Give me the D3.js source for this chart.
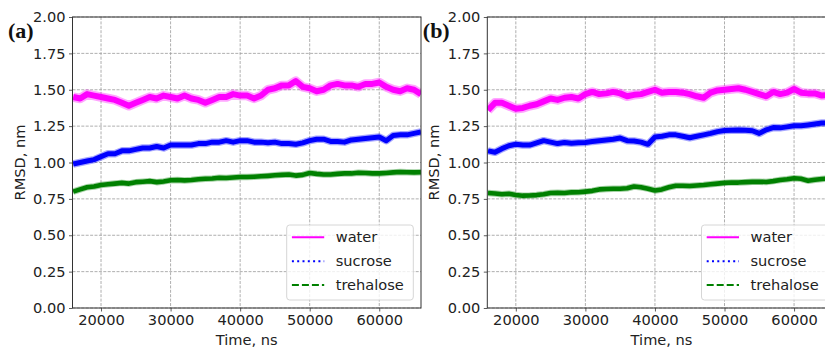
<!DOCTYPE html>
<html>
<head>
<meta charset="utf-8">
<script src="https://cdn.jsdelivr.net/npm/d3@7"></script>
<style>
  html, body { margin: 0; padding: 0; background: #fff; }
  svg { display: block; }
</style>
</head>
<body>
<svg id="chart" width="825" height="347"></svg>
<script>
// ---- data (time in ns, RMSD in nm), sampled every 1000 ns ----
const timeStart = 16000, timeStep = 1000;
const panelLabels = ["(a)", "(b)"];
const seriesNames = ["water", "sucrose", "trehalose"];
const xTicks = [20000, 30000, 40000, 50000, 60000];
const yTicks = [0, 0.25, 0.5, 0.75, 1.0, 1.25, 1.5, 1.75, 2.0];

const waterA = [1.45,1.44,1.47,1.46,1.45,1.44,1.43,1.41,1.39,1.41,1.43,1.45,1.44,1.46,1.45,1.44,1.46,1.44,1.43,1.41,1.43,1.45,1.45,1.47,1.46,1.46,1.44,1.46,1.50,1.51,1.53,1.53,1.56,1.52,1.51,1.49,1.50,1.53,1.54,1.53,1.53,1.52,1.54,1.54,1.55,1.52,1.50,1.49,1.51,1.50,1.47];
const sucroseA = [0.99,1.00,1.01,1.02,1.04,1.06,1.06,1.08,1.08,1.09,1.10,1.10,1.11,1.10,1.12,1.12,1.12,1.12,1.13,1.13,1.14,1.14,1.15,1.14,1.15,1.15,1.14,1.14,1.135,1.14,1.13,1.13,1.125,1.135,1.15,1.16,1.16,1.145,1.145,1.14,1.155,1.16,1.165,1.17,1.175,1.15,1.185,1.19,1.19,1.20,1.21];
const trehaloseA = [0.80,0.815,0.83,0.835,0.845,0.85,0.855,0.86,0.855,0.865,0.868,0.872,0.865,0.87,0.878,0.88,0.877,0.88,0.885,0.888,0.89,0.895,0.893,0.897,0.90,0.90,0.902,0.905,0.908,0.912,0.915,0.918,0.91,0.915,0.928,0.922,0.918,0.918,0.922,0.925,0.925,0.93,0.928,0.925,0.925,0.928,0.932,0.935,0.933,0.932,0.933];

const waterB = [1.36,1.41,1.41,1.39,1.37,1.375,1.39,1.40,1.42,1.44,1.43,1.445,1.45,1.44,1.47,1.485,1.47,1.475,1.485,1.475,1.455,1.465,1.47,1.485,1.50,1.48,1.485,1.485,1.48,1.47,1.455,1.445,1.48,1.495,1.50,1.505,1.51,1.50,1.485,1.47,1.455,1.485,1.47,1.48,1.505,1.48,1.475,1.475,1.46,1.465,1.46];
const sucroseB = [1.08,1.07,1.095,1.115,1.125,1.12,1.12,1.135,1.15,1.14,1.13,1.138,1.132,1.135,1.138,1.145,1.15,1.155,1.16,1.168,1.15,1.148,1.14,1.125,1.175,1.18,1.19,1.19,1.18,1.17,1.18,1.19,1.20,1.212,1.22,1.222,1.223,1.222,1.218,1.20,1.225,1.24,1.238,1.245,1.252,1.252,1.258,1.265,1.272,1.27,1.275];
const trehaloseB = [0.79,0.787,0.782,0.785,0.777,0.772,0.773,0.776,0.782,0.79,0.792,0.79,0.795,0.796,0.80,0.805,0.815,0.818,0.82,0.82,0.823,0.835,0.83,0.82,0.808,0.815,0.83,0.84,0.84,0.838,0.842,0.845,0.85,0.855,0.86,0.863,0.862,0.865,0.867,0.868,0.866,0.872,0.88,0.885,0.892,0.888,0.875,0.882,0.887,0.89,0.892];

const panelsData = [
  [waterA, sucroseA, trehaloseA],
  [waterB, sucroseB, trehaloseB]
];

// ---- styles ----
const colors = ["#ff00ff", "#0000ff", "#008000"];
const lineWidths = [6, 5, 4.6];
const haloWidths = [9.5, 7.5, 6.5];
const legendDash = [null, "2,3.3", "7,3"];
const FONT = "'DejaVu Sans', sans-serif";

const svg = d3.select("#chart");
const W = 348.5, H = 291;
const panelOrigins = [{x: 72.5, y: 17}, {x: 487.3, y: 17}];

const xDomain = [15900, 66000];

panelOrigins.forEach((o, pi) => {
  const g = svg.append("g").attr("transform", `translate(${o.x},${o.y})`);
  const x = d3.scaleLinear().domain(xDomain).range([0, W]);
  const y = d3.scaleLinear().domain([0, 2]).range([H, 0]);

  const clipId = "clip" + pi;
  g.append("clipPath").attr("id", clipId).append("rect")
    .attr("x", 0).attr("y", 0).attr("width", W).attr("height", H);

  // grid
  const grid = g.append("g").attr("class", "grid");
  grid.selectAll("line.gx").data(xTicks).join("line")
    .attr("x1", d => x(d)).attr("x2", d => x(d))
    .attr("y1", 0).attr("y2", H);
  grid.selectAll("line.gy").data(yTicks).join("line")
    .attr("class", "gy")
    .attr("x1", 0).attr("x2", W)
    .attr("y1", d => y(d)).attr("y2", d => y(d));
  grid.selectAll("line")
    .attr("stroke", "#9a9a9a").attr("stroke-width", 0.8)
    .attr("stroke-dasharray", "3,1.4");

  // series
  const line = d3.line()
    .x((d, i) => x(timeStart + i * timeStep))
    .y(d => y(d))
    .curve(d3.curveLinear);
  const dg = g.append("g").attr("clip-path", `url(#${clipId})`);
  panelsData[pi].forEach((vals, si) => {
    dg.append("path").datum(vals)
      .attr("fill", "none")
      .attr("stroke", colors[si])
      .attr("stroke-opacity", 0.35)
      .attr("stroke-width", haloWidths[si])
      .attr("stroke-linejoin", "round")
      .attr("d", line);
    dg.append("path").datum(vals)
      .attr("fill", "none")
      .attr("stroke", colors[si])
      .attr("stroke-width", lineWidths[si])
      .attr("stroke-linejoin", "round")
      .attr("d", line);
  });

  // axes
  const xAxis = d3.axisBottom(x).tickValues(xTicks).tickFormat(d3.format("d"))
    .tickSize(3.5).tickPadding(3.5);
  const yAxis = d3.axisLeft(y).tickValues(yTicks).tickFormat(d3.format(".2f"))
    .tickSize(3.5).tickPadding(3.5);
  const gx = g.append("g").attr("transform", `translate(0,${H})`).call(xAxis);
  const gy = g.append("g").call(yAxis);
  [gx, gy].forEach(a => {
    a.select(".domain").remove();
    a.selectAll(".tick line").attr("stroke", "#333").attr("stroke-width", 0.8);
    a.selectAll(".tick text").attr("fill", "#222")
      .style("font-family", FONT).style("font-size", "14.6px");
  });

  // spines
  g.append("rect").attr("x", 0).attr("y", 0).attr("width", W).attr("height", H)
    .attr("fill", "none").attr("stroke", "#333").attr("stroke-width", 1);

  // axis labels
  g.append("text").attr("x", W / 2).attr("y", H + 36.5)
    .attr("text-anchor", "middle").attr("fill", "#222")
    .style("font-family", FONT).style("font-size", "14.6px")
    .text("Time, ns");
  g.append("text")
    .attr("transform", `translate(${-48},${H / 2}) rotate(-90)`)
    .attr("text-anchor", "middle").attr("fill", "#222")
    .style("font-family", FONT).style("font-size", "14.6px")
    .text("RMSD, nm");

  // panel label
  g.append("text").attr("x", -64.5).attr("y", 21)
    .attr("fill", "#111")
    .style("font-family", "'Liberation Serif', serif")
    .style("font-weight", "bold").style("font-size", "22px")
    .text(panelLabels[pi]);

  // legend
  const lg = g.append("g").attr("transform", `translate(${W - 134.3},${208})`);
  lg.append("rect").attr("x", 0).attr("y", 0).attr("width", 126.6).attr("height", 75)
    .attr("rx", 3).attr("ry", 3)
    .attr("fill", "#fff").attr("fill-opacity", 0.8)
    .attr("stroke", "#d6d6d6").attr("stroke-width", 1);
  seriesNames.forEach((name, si) => {
    const ry = 12.3 + si * 23.9;
    const ln = lg.append("line").attr("x1", 5.2).attr("x2", 37.5)
      .attr("y1", ry).attr("y2", ry)
      .attr("stroke", colors[si]).attr("stroke-width", 2);
    if (legendDash[si]) ln.attr("stroke-dasharray", legendDash[si]);
    lg.append("text").attr("x", 49).attr("y", ry).attr("dy", "0.35em")
      .attr("fill", "#222")
      .style("font-family", FONT).style("font-size", "14.6px")
      .text(name);
  });
});
</script>
</body>
</html>
